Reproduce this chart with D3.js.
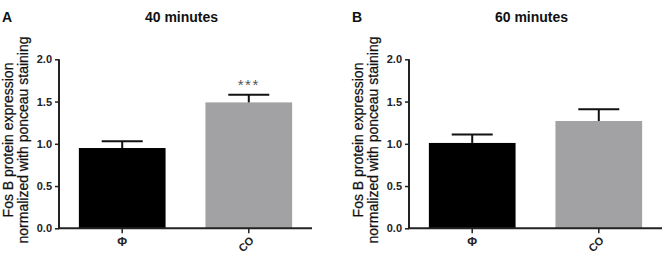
<!DOCTYPE html>
<html>
<head>
<meta charset="utf-8">
<script src="https://cdn.jsdelivr.net/npm/d3@7"></script>
<style>
  body { margin: 0; background: #fff; }
  svg { display: block; font-family: "Liberation Sans", Arial, sans-serif; }
</style>
</head>
<body>
<svg id="chart" width="667" height="263"></svg>
<script>
// data
const groups = ["Φ", "CO"];
const panelLetters = ["A", "B"];
const panelTitles = ["40 minutes", "60 minutes"];
const means40 = [0.95, 1.49];
const sem40 = [0.08, 0.09];
const sig40 = ["", "***"];
const means60 = [1.01, 1.27];
const sem60 = [0.10, 0.14];
const sig60 = ["", ""];
const yTicks = [0, 0.5, 1.0, 1.5, 2.0];
const barColors = ["#000000", "#a2a2a5"];

const svg = d3.select("#chart");

// panel layout: axis left edge, x axis length
const panels = [
  { left: 59, means: means40, sem: sem40, sig: sig40 },
  { left: 409, means: means60, sem: sem60, sig: sig60 }
];
const plotTop = 59.3, plotBottom = 228.3, axisLen = 253;

panels.forEach((p, k) => {
  const g = svg.append("g");

  const x = d3.scaleBand()
    .domain(groups)
    .range([p.left, p.left + axisLen])
    .paddingInner(0.315)
    .paddingOuter(0.157);
  const y = d3.scaleLinear().domain([0, 2]).range([plotBottom, plotTop]);

  // bars
  g.selectAll("rect.bar")
    .data(groups)
    .join("rect")
      .attr("class", "bar")
      .attr("x", d => x(d))
      .attr("width", x.bandwidth())
      .attr("y", (d, i) => y(p.means[i]))
      .attr("height", (d, i) => plotBottom - y(p.means[i]))
      .attr("fill", (d, i) => barColors[i]);

  // error bars (upper only)
  const capW = 41;
  const eb = g.selectAll("g.err")
    .data(groups)
    .join("g")
      .attr("class", "err")
      .attr("stroke", "#111")
      .attr("stroke-width", 2);
  eb.append("line")
    .attr("x1", d => x(d) + x.bandwidth() / 2)
    .attr("x2", d => x(d) + x.bandwidth() / 2)
    .attr("y1", (d, i) => y(p.means[i]))
    .attr("y2", (d, i) => y(p.means[i] + p.sem[i]));
  eb.append("line")
    .attr("x1", d => x(d) + x.bandwidth() / 2 - capW / 2)
    .attr("x2", d => x(d) + x.bandwidth() / 2 + capW / 2)
    .attr("y1", (d, i) => y(p.means[i] + p.sem[i]))
    .attr("y2", (d, i) => y(p.means[i] + p.sem[i]));

  // significance stars
  g.selectAll("text.sig")
    .data(groups)
    .join("text")
      .attr("class", "sig")
      .attr("x", d => x(d) + x.bandwidth() / 2)
      .attr("y", (d, i) => y(p.means[i] + p.sem[i]) - 5)
      .attr("text-anchor", "middle")
      .attr("font-size", 15)
      .attr("letter-spacing", 1.5)
      .attr("fill", "#555")
      .text((d, i) => p.sig[i]);

  // y axis
  const yAxis = g.append("g")
    .attr("transform", `translate(${p.left},0)`)
    .call(d3.axisLeft(y).tickValues(yTicks).tickFormat(d3.format(".1f")).tickSize(4).tickPadding(3));
  yAxis.select(".domain").attr("stroke", "#222").attr("stroke-width", 2).attr("d", `M0,${plotTop}V${plotBottom}`);
  yAxis.selectAll(".tick line").attr("stroke", "#222").attr("stroke-width", 1.5);
  yAxis.selectAll(".tick text")
    .attr("font-size", 11)
    .attr("font-weight", "bold")
    .attr("font-family", "Liberation Sans, Arial, sans-serif")
    .attr("fill", "#222");

  // x axis
  const xAxis = g.append("g")
    .attr("transform", `translate(0,${plotBottom})`)
    .call(d3.axisBottom(x).tickSize(5).tickFormat(""));
  xAxis.select(".domain").attr("stroke", "#222").attr("stroke-width", 2)
    .attr("d", `M${p.left - 1},0H${p.left + axisLen}`);
  xAxis.selectAll(".tick line").attr("stroke", "#222").attr("stroke-width", 1.5);

  // category labels
  g.append("text")
    .attr("x", x(groups[0]) + x.bandwidth() / 2)
    .attr("y", plotBottom + 18)
    .attr("text-anchor", "middle")
    .attr("font-size", 12)
    .attr("font-weight", "bold")
    .attr("fill", "#222")
    .text(groups[0]);
  const cx = x(groups[1]) + x.bandwidth() / 2;
  g.append("text")
    .attr("transform", `translate(${cx + 3},${plotBottom + 10}) rotate(-45)`)
    .attr("text-anchor", "end")
    .attr("dominant-baseline", "central")
    .attr("font-size", 11)
    .attr("font-weight", "bold")
    .attr("fill", "#222")
    .text(groups[1]);

  // y axis title (two lines), baselines right of the glyphs
  const yt = g.append("text")
    .attr("transform", `translate(${p.left - 31},140) rotate(-90)`)
    .attr("text-anchor", "middle")
    .attr("font-size", 14)
    .attr("stroke", "#111")
    .attr("stroke-width", 0.25)
    .attr("fill", "#111");
  yt.append("tspan").attr("x", 0).attr("y", -15).text("Fos B protein expression");
  yt.append("tspan").attr("x", 0).attr("y", 0).text("normalized with ponceau staining");

  // panel letter and title
  g.append("text")
    .attr("x", p.left - 57)
    .attr("y", 22)
    .attr("font-size", 14)
    .attr("font-weight", "bold")
    .attr("fill", "#111")
    .text(panelLetters[k]);
  g.append("text")
    .attr("x", p.left + axisLen / 2 - 4)
    .attr("y", 22)
    .attr("text-anchor", "middle")
    .attr("font-size", 14)
    .attr("font-weight", "bold")
    .attr("fill", "#111")
    .text(panelTitles[k]);
});
</script>
</body>
</html>
